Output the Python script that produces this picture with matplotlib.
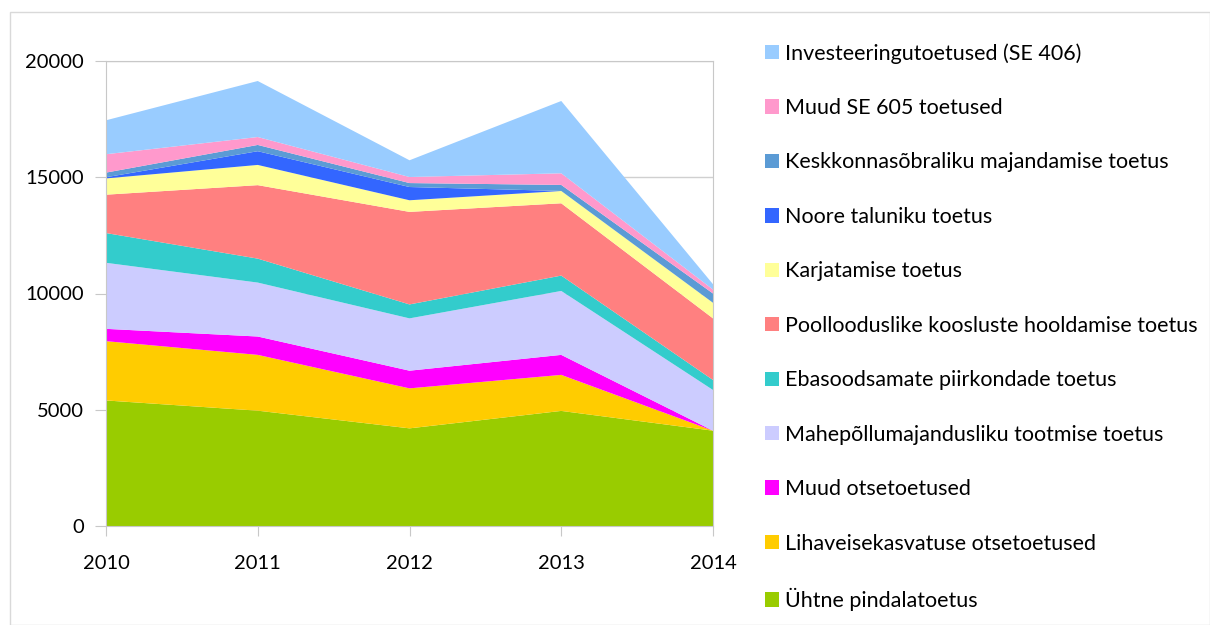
import matplotlib.pyplot as plt
from matplotlib.patches import Rectangle

years = [2010, 2011, 2012, 2013, 2014]

# values (stack order, bottom first)
labels = [
    'Ühtne pindalatoetus',
    'Lihaveisekasvatuse otsetoetused',
    'Muud otsetoetused',
    'Mahepõllumajandusliku tootmise toetus',
    'Ebasoodsamate piirkondade toetus',
    'Poollooduslike koosluste hooldamise toetus',
    'Karjatamise toetus',
    'Noore taluniku toetus',
    'Keskkonnasõbraliku majandamise toetus',
    'Muud SE 605 toetused',
    'Investeeringutoetused (SE 406)',
]
yhtne = [5400, 4960, 4200, 4950, 4100]
lihaveis = [2550, 2400, 1720, 1550, 0]
muud_otse = [530, 790, 760, 860, 0]
mahe = [2840, 2320, 2250, 2750, 1750]
ebasoodsad = [1280, 1030, 600, 660, 430]
poollood = [1650, 3160, 3980, 3110, 2650]
karjatamine = [700, 870, 500, 530, 670]
noor = [50, 590, 570, 0, 0]
keskkond = [200, 270, 170, 260, 400]
muud_se605 = [790, 340, 260, 500, 170]
invest = [1460, 2410, 720, 3110, 230]

colors = ['#99CC00', '#FFCC00', '#FF00FF', '#CCCCFF', '#33CCCC', '#FF8080',
          '#FFFF99', '#3366FF', '#5B9BD5', '#FF99CC', '#99CCFF']

plt.rcParams['font.family'] = ['Lato', 'DejaVu Sans']

fig = plt.figure(figsize=(12.1, 6.25), dpi=100)
ax = fig.add_axes([106/1210, 1 - 526/625, (713 - 106)/1210, (526 - 61)/625])

polys = ax.stackplot(years, yhtne, lihaveis, muud_otse, mahe, ebasoodsad, poollood,
                     karjatamine, noor, keskkond, muud_se605, invest,
                     labels=labels, colors=colors, zorder=2)

ax.set_xlim(2010, 2014)
ax.set_ylim(0, 20000)
ax.set_yticks([0, 5000, 10000, 15000, 20000])
ax.set_xticks(years)
ax.yaxis.grid(True, color='#D0D0D0', linewidth=1, zorder=0)
ax.set_axisbelow(True)
for s in ax.spines.values():
    s.set_color('#C8C8C8')
ax.tick_params(axis='y', length=8, color='#C8C8C8', labelsize=14.5, pad=8)
ax.tick_params(axis='x', length=7, color='#C8C8C8', labelsize=14.5, pad=14)

handles = polys[::-1]
fig.legend(handles, labels[::-1], loc='upper left', bbox_to_anchor=(765/1210, 1 - 43/625),
           frameon=False, fontsize=15.5, labelspacing=1.60, handlelength=0.65,
           handleheight=0.65, handletextpad=0.3, borderpad=0, borderaxespad=0)

fig.patches.append(Rectangle((10/1210, 0), 1 - 10/1210, 1 - 12/625, transform=fig.transFigure,
                             fill=False, edgecolor='#D9D9D9', linewidth=1))

fig.savefig('out.png', dpi=100)
